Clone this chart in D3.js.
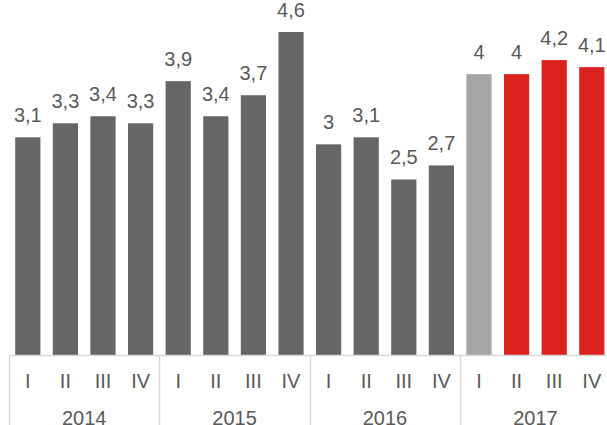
<!DOCTYPE html>
<html>
<head>
<meta charset="utf-8">
<script src="https://cdn.jsdelivr.net/npm/d3@7"></script>
<style>
  html, body { margin: 0; padding: 0; background: #ffffff; }
  svg { display: block; }
</style>
</head>
<body>
<svg id="chart" width="607" height="425"></svg>
<script>
// Quarterly values, grouped by year
const years = ["2014", "2015", "2016", "2017"];
const quarters = ["I", "II", "III", "IV"];
const values = [
  3.1, 3.3, 3.4, 3.3,
  3.9, 3.4, 3.7, 4.6,
  3.0, 3.1, 2.5, 2.7,
  4.0, 4.0, 4.2, 4.1
];
// Bar kind: actual (dark), estimate (light) and forecast (red)
const kinds = [
  "a", "a", "a", "a",
  "a", "a", "a", "a",
  "a", "a", "a", "a",
  "e", "f", "f", "f"
];
const colors = { a: "#666666", e: "#a5a5a5", f: "#da231f" };

const data = values.map((v, i) => ({
  key: years[Math.floor(i / 4)] + "-" + quarters[i % 4],
  year: years[Math.floor(i / 4)],
  q: quarters[i % 4],
  value: v,
  kind: kinds[i]
}));

const svg = d3.select("#chart");
const left = 9, right = 610.6, baseY = 355, topY = 32;

const x = d3.scaleBand()
  .domain(data.map(d => d.key))
  .range([left, right])
  .paddingInner(0.33)
  .paddingOuter(0.165);

const y = d3.scaleLinear()
  .domain([0, 4.6])
  .range([baseY, topY]);

const fmt = v => d3.format(".1~f")(v).replace(".", ",");
const font = "Arial, 'Liberation Sans', sans-serif";
const textColor = "#595959";
const gridColor = "#d9d9d9";

// Bars
svg.append("g").selectAll("rect")
  .data(data)
  .join("rect")
  .attr("x", d => x(d.key))
  .attr("y", d => y(d.value))
  .attr("width", x.bandwidth())
  .attr("height", d => baseY - y(d.value))
  .attr("fill", d => colors[d.kind]);

// Value labels
svg.append("g").selectAll("text")
  .data(data)
  .join("text")
  .attr("x", d => x(d.key) + x.bandwidth() / 2)
  .attr("y", d => y(d.value) - 15)
  .attr("text-anchor", "middle")
  .attr("font-family", font)
  .attr("font-size", 20)
  .attr("fill", textColor)
  .text(d => fmt(d.value));

// Category axis: baseline and group separators
const axis = svg.append("g");
axis.append("line")
  .attr("x1", left).attr("x2", 607)
  .attr("y1", baseY + 0.5).attr("y2", baseY + 0.5)
  .attr("stroke", gridColor).attr("stroke-width", 1.5);

const step = x.step();
const groupEdges = years.map((yr, i) => left + i * 4 * step);
axis.selectAll("line.sep")
  .data(groupEdges)
  .join("line")
  .attr("class", "sep")
  .attr("x1", d => Math.round(d) + 0.5).attr("x2", d => Math.round(d) + 0.5)
  .attr("y1", baseY).attr("y2", 425)
  .attr("stroke", gridColor).attr("stroke-width", 1.5);

// Quarter labels
axis.selectAll("text.q")
  .data(data)
  .join("text")
  .attr("class", "q")
  .attr("x", d => x(d.key) + x.bandwidth() / 2)
  .attr("y", 388)
  .attr("text-anchor", "middle")
  .attr("font-family", font)
  .attr("font-size", 20)
  .attr("fill", textColor)
  .text(d => d.q);

// Year labels
axis.selectAll("text.yr")
  .data(years)
  .join("text")
  .attr("class", "yr")
  .attr("x", (d, i) => left + (i * 4 + 2) * step)
  .attr("y", 425)
  .attr("text-anchor", "middle")
  .attr("font-family", font)
  .attr("font-size", 20)
  .attr("fill", textColor)
  .text(d => d);
</script>
</body>
</html>
